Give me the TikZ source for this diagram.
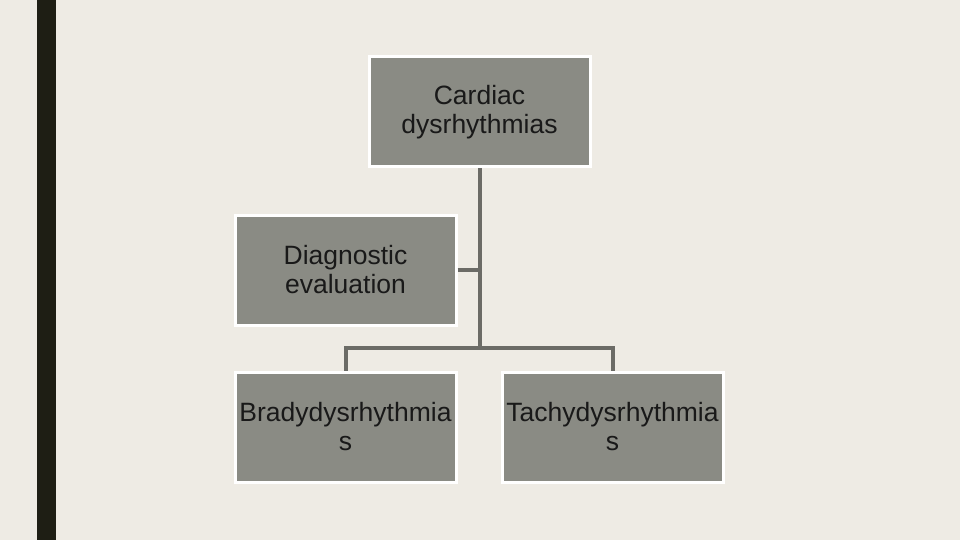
\documentclass[tikz,border=0pt]{standalone}
\usepackage{fontspec}
\setmainfont{Liberation Sans}
\begin{document}
\begin{tikzpicture}[x=1pt,y=-1pt,
  box/.style={draw=white,line width=3pt,fill=boxgray,minimum width=221pt,minimum height=110pt,inner sep=0pt,align=center,font=\fontsize{26.5}{29}\selectfont,text=black!90},
  conn/.style={draw=linegray,line width=4pt}]
\definecolor{bg}{HTML}{EEEBE4}
\definecolor{boxgray}{HTML}{8A8B84}
\definecolor{linegray}{HTML}{6B6B66}
\definecolor{barc}{HTML}{1E1E14}
\fill[bg] (0,0) rectangle (960,540);
\useasboundingbox (0,0) rectangle (960,540);
\fill[barc] (37,0) rectangle (56,540);
\node[box] (top) at (479.5,112) {Cardiac\\dysrhythmias};
\node[box] (diag) at (345.5,270) {Diagnostic\\evaluation};
\node[box] (brady) at (345.5,427) {Bradydysrhythmia\\s};
\node[box] (tachy) at (612.5,427) {Tachydysrhythmia\\s};
\coordinate (j) at (479.5,348);
\draw[conn] (top.south) -- (j);
\draw[conn] (diag.east) -- (diag.east -| j);
\draw[conn] (brady.north) -- (brady.north |- j) -- (tachy.north |- j) -- (tachy.north);
\end{tikzpicture}
\end{document}
